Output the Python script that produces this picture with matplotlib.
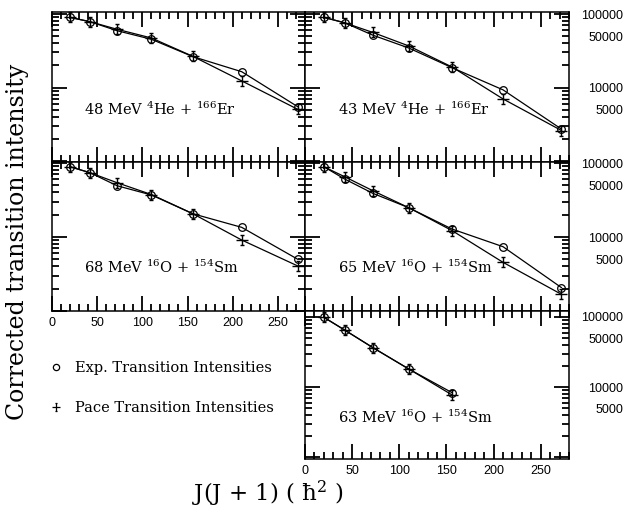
import numpy as np
import matplotlib
matplotlib.use("Agg")
import matplotlib.pyplot as plt
from matplotlib.path import Path
from matplotlib.lines import Line2D
from matplotlib.ticker import MultipleLocator, LogLocator, FuncFormatter, NullFormatter

# J(J+1) values of the transitions
J = [20, 42, 72, 110, 156, 210, 272]

# corrected transition intensities
he48_exp = [90000, 78600, 59300, 45300, 26300, 16400, 5480]
he48_pace = [90000, 78600, 62000, 47200, 26500, 12300, 5050]
he43_exp = [90000, 76000, 51500, 34500, 18600, 9300, 2720]
he43_pace = [90000, 76000, 56100, 36800, 19000, 7000, 2600]
o68_exp = [89000, 74000, 49300, 37000, 20600, 13500, 5000]
o68_pace = [89000, 74000, 54200, 37500, 20600, 9100, 4060]
o65_exp = [89000, 60800, 38900, 24900, 12800, 7400, 2070]
o65_pace = [89000, 65300, 42200, 24900, 12200, 4550, 1680]
o63_exp = [99000, 65200, 36500, 18100, 8300]
o63_pace = [99000, 65200, 36500, 18100, 7700]

labels = [r"48 MeV $^{4}$He + $^{166}$Er",
          r"43 MeV $^{4}$He + $^{166}$Er",
          r"68 MeV $^{16}$O + $^{154}$Sm",
          r"65 MeV $^{16}$O + $^{154}$Sm",
          r"63 MeV $^{16}$O + $^{154}$Sm"]

plt.rcParams['mathtext.fontset'] = 'dejavuserif'
serif = 'DejaVu Serif'
sans = 'Liberation Sans'

# marker for the PACE points: horizontal bar with a capped vertical error bar
pace_marker = Path([(-1, 0), (1, 0), (0, -0.9), (0, 0.9),
                    (-0.35, 0.9), (0.35, 0.9), (-0.35, -0.9), (0.35, -0.9)],
                   [Path.MOVETO, Path.LINETO] * 4)

W, H = 626, 512
fig = plt.figure(figsize=(W / 100, H / 100), dpi=100)

def rect(x0, x1, y0, y1):
    return [x0 / W, 1 - y1 / H, (x1 - x0) / W, (y1 - y0) / H]

col_x = [(52, 305), (305, 569)]
row_y = [(12, 162), (162, 311), (311, 459)]
row_lim = [(970, 1.065e5), (1000, 1.032e5), (937, 1.218e5)]

panels = [
    (0, 0, he48_exp, he48_pace, labels[0], 0.35),
    (0, 1, he43_exp, he43_pace, labels[1], 0.35),
    (1, 0, o68_exp, o68_pace, labels[2], 0.29),
    (1, 1, o65_exp, o65_pace, labels[3], 0.29),
    (2, 1, o63_exp, o63_pace, labels[4], 0.28),
]

def fmt_major(v, pos):
    return "%d" % round(v) if 9e3 < v < 1.1e5 else ""

def fmt_minor(v, pos):
    return "%d" % round(v) if (abs(v - 5e4) < 1 or abs(v - 5e3) < 1) else ""

for row, col, exp, pace, lab, ty in panels:
    x0, x1 = col_x[col]
    y0, y1 = row_y[row]
    ax = fig.add_axes(rect(x0, x1, y0, y1))
    ax.set_yscale('log')
    ax.set_xlim(0, 280)
    ax.set_ylim(*row_lim[row])
    xs = J[:len(exp)]
    ax.plot(xs, exp, color='k', lw=0.9, marker='o', ms=5.5, mfc='none', mec='k', mew=0.9, clip_on=False)
    ax.plot(xs, pace, color='k', lw=0.9, marker=pace_marker, ms=8, mec='k', mew=1.0, clip_on=False)
    ax.text(0.125, ty, lab, transform=ax.transAxes, fontsize=10.5, family=serif, va='center')

    ax.xaxis.set_major_locator(MultipleLocator(50))
    ax.xaxis.set_minor_locator(MultipleLocator(10))
    ax.yaxis.set_major_locator(LogLocator(base=10))
    ax.yaxis.set_minor_locator(LogLocator(base=10, subs=np.arange(2, 10), numticks=20))
    ax.tick_params(which='both', direction='in', top=True, bottom=True, left=True, right=True,
                   color='black')
    ax.tick_params(which='major', length=11, width=1.3)
    ax.tick_params(which='minor', length=5, width=1.3)
    for s in ax.spines.values():
        s.set_linewidth(1.1)

    show_x = (row == 1 and col == 0) or (row == 2 and col == 1)
    ax.tick_params(axis='x', labelbottom=show_x, labelsize=9, pad=4)
    for t in ax.get_xticklabels():
        t.set_family(sans)

    ax.tick_params(axis='y', which='both', labelleft=False)
    if col == 1:
        ax.tick_params(axis='y', which='both', labelright=True, labelsize=9, pad=39)
        ax.yaxis.set_major_formatter(FuncFormatter(fmt_major))
        ax.yaxis.set_minor_formatter(FuncFormatter(fmt_minor))
        for t in ax.get_yticklabels(which='both'):
            t.set_family(sans)
            t.set_horizontalalignment('right')
    else:
        ax.yaxis.set_minor_formatter(NullFormatter())

# legend in the empty lower-left corner
handles = [Line2D([], [], ls='none', marker='o', ms=4.5, mfc='none', mec='k', mew=0.9),
           Line2D([], [], ls='none', marker=pace_marker, ms=6, mec='k', mew=0.9)]
fig.legend(handles, ["Exp. Transition Intensities", "Pace Transition Intensities"],
           loc='center left', bbox_to_anchor=(43 / W, 1 - 388 / H), frameon=False,
           prop={'family': serif, 'size': 10.5}, handlelength=0.8, handletextpad=0.9,
           labelspacing=1.75, borderpad=0)

fig.text(18 / W, 1 - 242 / H, "Corrected transition intensity", rotation=90,
         family=serif, fontsize=17, ha='center', va='center')
fig.text(268 / W, 1 - 494 / H, r"J(J + 1) ( ħ$^{2}$ )", family=serif, fontsize=16.5,
         ha='center', va='center')

fig.savefig("out.png", dpi=100)
